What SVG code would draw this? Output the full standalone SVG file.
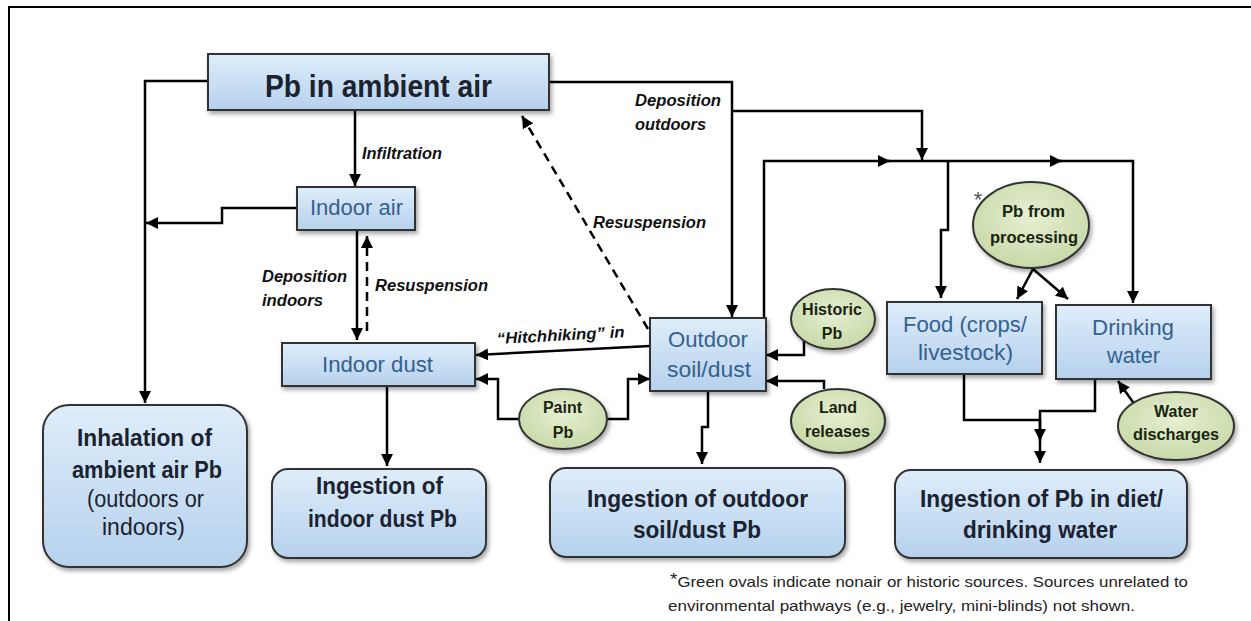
<svg xmlns="http://www.w3.org/2000/svg" width="1251" height="621" viewBox="0 0 1251 621">
<defs>
<linearGradient id="blue" x1="0" y1="0" x2="0" y2="1">
<stop offset="0" stop-color="#deedfa"/>
<stop offset="1" stop-color="#b6d1ed"/>
</linearGradient>
<radialGradient id="green" cx="0.5" cy="0.4" r="0.6">
<stop offset="0" stop-color="#e6efd3"/>
<stop offset="1" stop-color="#c8d9a8"/>
</radialGradient>
<filter id="sh" x="-10%" y="-10%" width="125%" height="130%">
<feDropShadow dx="2" dy="3" stdDeviation="2" flood-color="#000" flood-opacity="0.35"/>
</filter>
<marker id="arr" markerUnits="userSpaceOnUse" markerWidth="13" markerHeight="13" refX="12" refY="6" orient="auto">
<path d="M0,0 L12,6 L0,12 z" fill="#000"/>
</marker>
<style>
.box{fill:url(#blue);stroke:#333;stroke-width:2;filter:url(#sh)}
.ov{fill:url(#green);stroke:#333;stroke-width:2;filter:url(#sh)}
.c{fill:none;stroke:#000;stroke-width:2.5}
.a{marker-end:url(#arr)}
.d{stroke-dasharray:9 6}
text{font-family:"Liberation Sans",Arial,sans-serif;text-anchor:middle}
.t1{font-size:31px;font-weight:bold;fill:#1b2230}
.tm{font-size:22px;fill:#35618f}
.tb{font-size:23px;font-weight:bold;fill:#1b2230}
.tn{font-size:23px;fill:#1b2230}
.to{font-size:16px;font-weight:bold;fill:#1a2410}
.lb{font-size:16px;font-weight:bold;font-style:italic;fill:#111;text-anchor:start}
.fn{font-size:15px;fill:#222;text-anchor:start}
</style>
</defs>
<rect width="1251" height="621" fill="#fff"/>
<path d="M9,621 V7 H1251" fill="none" stroke="#000" stroke-width="2"/>

<g id="connectors">
<path class="c a" d="M208,81 H145 V403"/>
<path class="c a" d="M355,110 V186"/>
<path class="c a" d="M549,82 H732 V317"/>
<path class="c a" d="M732,111 H922 V160"/>
<path class="c a" d="M764,318 V161 H890"/>
<path class="c a" d="M886,161 H1062"/>
<path class="c a" d="M1058,161 H1133 V303"/>
<path class="c a" d="M948,161 V230 H941 V298"/>
<path class="c a" d="M1033,269 L1017,299"/>
<path class="c a" d="M1033,269 L1068,299"/>
<path class="c a" d="M1135,405 L1118,381"/>
<path class="c a" d="M964,374 V420 H1040 V463"/>
<path class="c a" d="M1095,379 V411 H1040 V441"/>
<path class="c a" d="M297,208 H222 V223 H146"/>
<path class="c a" d="M357,230 V340"/>
<path class="c a d" d="M367,331 V236"/>
<path class="c a" d="M387,386 V466"/>
<path class="c a" d="M650,346 L476,355"/>
<path class="c a" d="M519,419 H498 V379 H476"/>
<path class="c a" d="M607,419 H628 V379 H650"/>
<path class="c a" d="M708,391 V427 H702 V464"/>
<path class="c a" d="M804,341 V355 H766"/>
<path class="c a" d="M824,389 V381 H766"/>
<path class="c a d" d="M648,329 L522,116"/>
</g>

<g id="labels">
<text class="lb" x="362" y="159" textLength="80" lengthAdjust="spacingAndGlyphs">Infiltration</text>
<text class="lb" x="635" y="106" textLength="86" lengthAdjust="spacingAndGlyphs">Deposition</text>
<text class="lb" x="635" y="130" textLength="71" lengthAdjust="spacingAndGlyphs">outdoors</text>
<text class="lb" x="262" y="282" textLength="85" lengthAdjust="spacingAndGlyphs">Deposition</text>
<text class="lb" x="262" y="306" textLength="61" lengthAdjust="spacingAndGlyphs">indoors</text>
<text class="lb" x="375" y="291" textLength="113" lengthAdjust="spacingAndGlyphs">Resuspension</text>
<text class="lb" x="593" y="228" textLength="113" lengthAdjust="spacingAndGlyphs">Resuspension</text>
<text class="lb" x="497" y="344" textLength="128" lengthAdjust="spacingAndGlyphs" transform="rotate(-3 497 344)">“Hitchhiking” in</text>
</g>

<g id="pb-ambient-air">
<rect class="box" x="208" y="54" width="341" height="56"/>
<text class="t1" x="378.5" y="97" textLength="227" lengthAdjust="spacingAndGlyphs">Pb in ambient air</text>
</g>

<g id="indoor-air">
<rect class="box" x="297" y="187" width="118" height="43"/>
<text class="tm" x="356.5" y="215" textLength="93" lengthAdjust="spacingAndGlyphs">Indoor air</text>
</g>

<g id="indoor-dust">
<rect class="box" x="282" y="343" width="193" height="43"/>
<text class="tm" x="377.5" y="372" textLength="111" lengthAdjust="spacingAndGlyphs">Indoor dust</text>
</g>

<g id="outdoor-soil">
<rect class="box" x="650" y="318" width="116" height="73"/>
<text class="tm" x="708" y="347" textLength="80" lengthAdjust="spacingAndGlyphs">Outdoor</text>
<text class="tm" x="709" y="377" textLength="84" lengthAdjust="spacingAndGlyphs">soil/dust</text>
</g>

<g id="food">
<rect class="box" x="887" y="302" width="155" height="72"/>
<text class="tm" x="965" y="332" textLength="124" lengthAdjust="spacingAndGlyphs">Food (crops/</text>
<text class="tm" x="965.5" y="360" textLength="95" lengthAdjust="spacingAndGlyphs">livestock)</text>
</g>

<g id="drinking-water">
<rect class="box" x="1056" y="305" width="155" height="74"/>
<text class="tm" x="1133" y="335" textLength="82" lengthAdjust="spacingAndGlyphs">Drinking</text>
<text class="tm" x="1133.5" y="363" textLength="53" lengthAdjust="spacingAndGlyphs">water</text>
</g>

<g id="inhalation">
<rect class="box" x="43" y="405" width="204" height="162" rx="26"/>
<text class="tb" x="144.5" y="446" textLength="135" lengthAdjust="spacingAndGlyphs">Inhalation of</text>
<text class="tb" x="147" y="478" textLength="150" lengthAdjust="spacingAndGlyphs">ambient air Pb</text>
<text class="tn" x="145.5" y="507" textLength="117" lengthAdjust="spacingAndGlyphs">(outdoors or</text>
<text class="tn" x="143.5" y="535" textLength="83" lengthAdjust="spacingAndGlyphs">indoors)</text>
</g>

<g id="ingestion-indoor">
<rect class="box" x="272" y="469" width="214" height="89" rx="16"/>
<text class="tb" x="379.5" y="494" textLength="127" lengthAdjust="spacingAndGlyphs">Ingestion of</text>
<text class="tb" x="382.5" y="527" textLength="149" lengthAdjust="spacingAndGlyphs">indoor dust Pb</text>
</g>

<g id="ingestion-outdoor">
<rect class="box" x="550" y="468" width="295" height="89" rx="16"/>
<text class="tb" x="697.5" y="507" textLength="221" lengthAdjust="spacingAndGlyphs">Ingestion of outdoor</text>
<text class="tb" x="697" y="538" textLength="128" lengthAdjust="spacingAndGlyphs">soil/dust Pb</text>
</g>

<g id="ingestion-diet">
<rect class="box" x="895" y="470" width="292" height="88" rx="16"/>
<text class="tb" x="1041.5" y="507" textLength="243" lengthAdjust="spacingAndGlyphs">Ingestion of Pb in diet/</text>
<text class="tb" x="1040" y="538" textLength="154" lengthAdjust="spacingAndGlyphs">drinking water</text>
</g>

<g id="pb-processing">
<ellipse class="ov" cx="1031" cy="225" rx="58" ry="43"/>
<text class="to" x="1033.5" y="217" textLength="63" lengthAdjust="spacingAndGlyphs">Pb from</text>
<text class="to" x="1034" y="243" textLength="88" lengthAdjust="spacingAndGlyphs">processing</text>
<text x="978" y="207" style="font-size:22px;fill:#555">*</text>
</g>

<g id="historic-pb">
<ellipse class="ov" cx="833" cy="319" rx="42" ry="30"/>
<text class="to" x="832" y="315" textLength="60" lengthAdjust="spacingAndGlyphs">Historic</text>
<text class="to" x="832" y="339">Pb</text>
</g>

<g id="land-releases">
<ellipse class="ov" cx="838" cy="421" rx="47" ry="32"/>
<text class="to" x="838" y="413">Land</text>
<text class="to" x="837.5" y="437" textLength="65" lengthAdjust="spacingAndGlyphs">releases</text>
</g>

<g id="paint-pb">
<ellipse class="ov" cx="563" cy="419" rx="44" ry="30"/>
<text class="to" x="562.5" y="413">Paint</text>
<text class="to" x="563" y="438">Pb</text>
</g>

<g id="water-discharges">
<ellipse class="ov" cx="1176" cy="426" rx="58" ry="34"/>
<text class="to" x="1176" y="417">Water</text>
<text class="to" x="1176" y="440" textLength="86" lengthAdjust="spacingAndGlyphs">discharges</text>
</g>

<g id="footnote">
<text class="fn" x="670" y="587" textLength="518" lengthAdjust="spacingAndGlyphs"><tspan font-size="17" dy="-2">*</tspan><tspan dy="2">Green ovals indicate nonair or historic sources. Sources unrelated to</tspan></text>
<text class="fn" x="668" y="611" textLength="467" lengthAdjust="spacingAndGlyphs">environmental pathways (e.g., jewelry, mini-blinds) not shown.</text>
</g>
</svg>
